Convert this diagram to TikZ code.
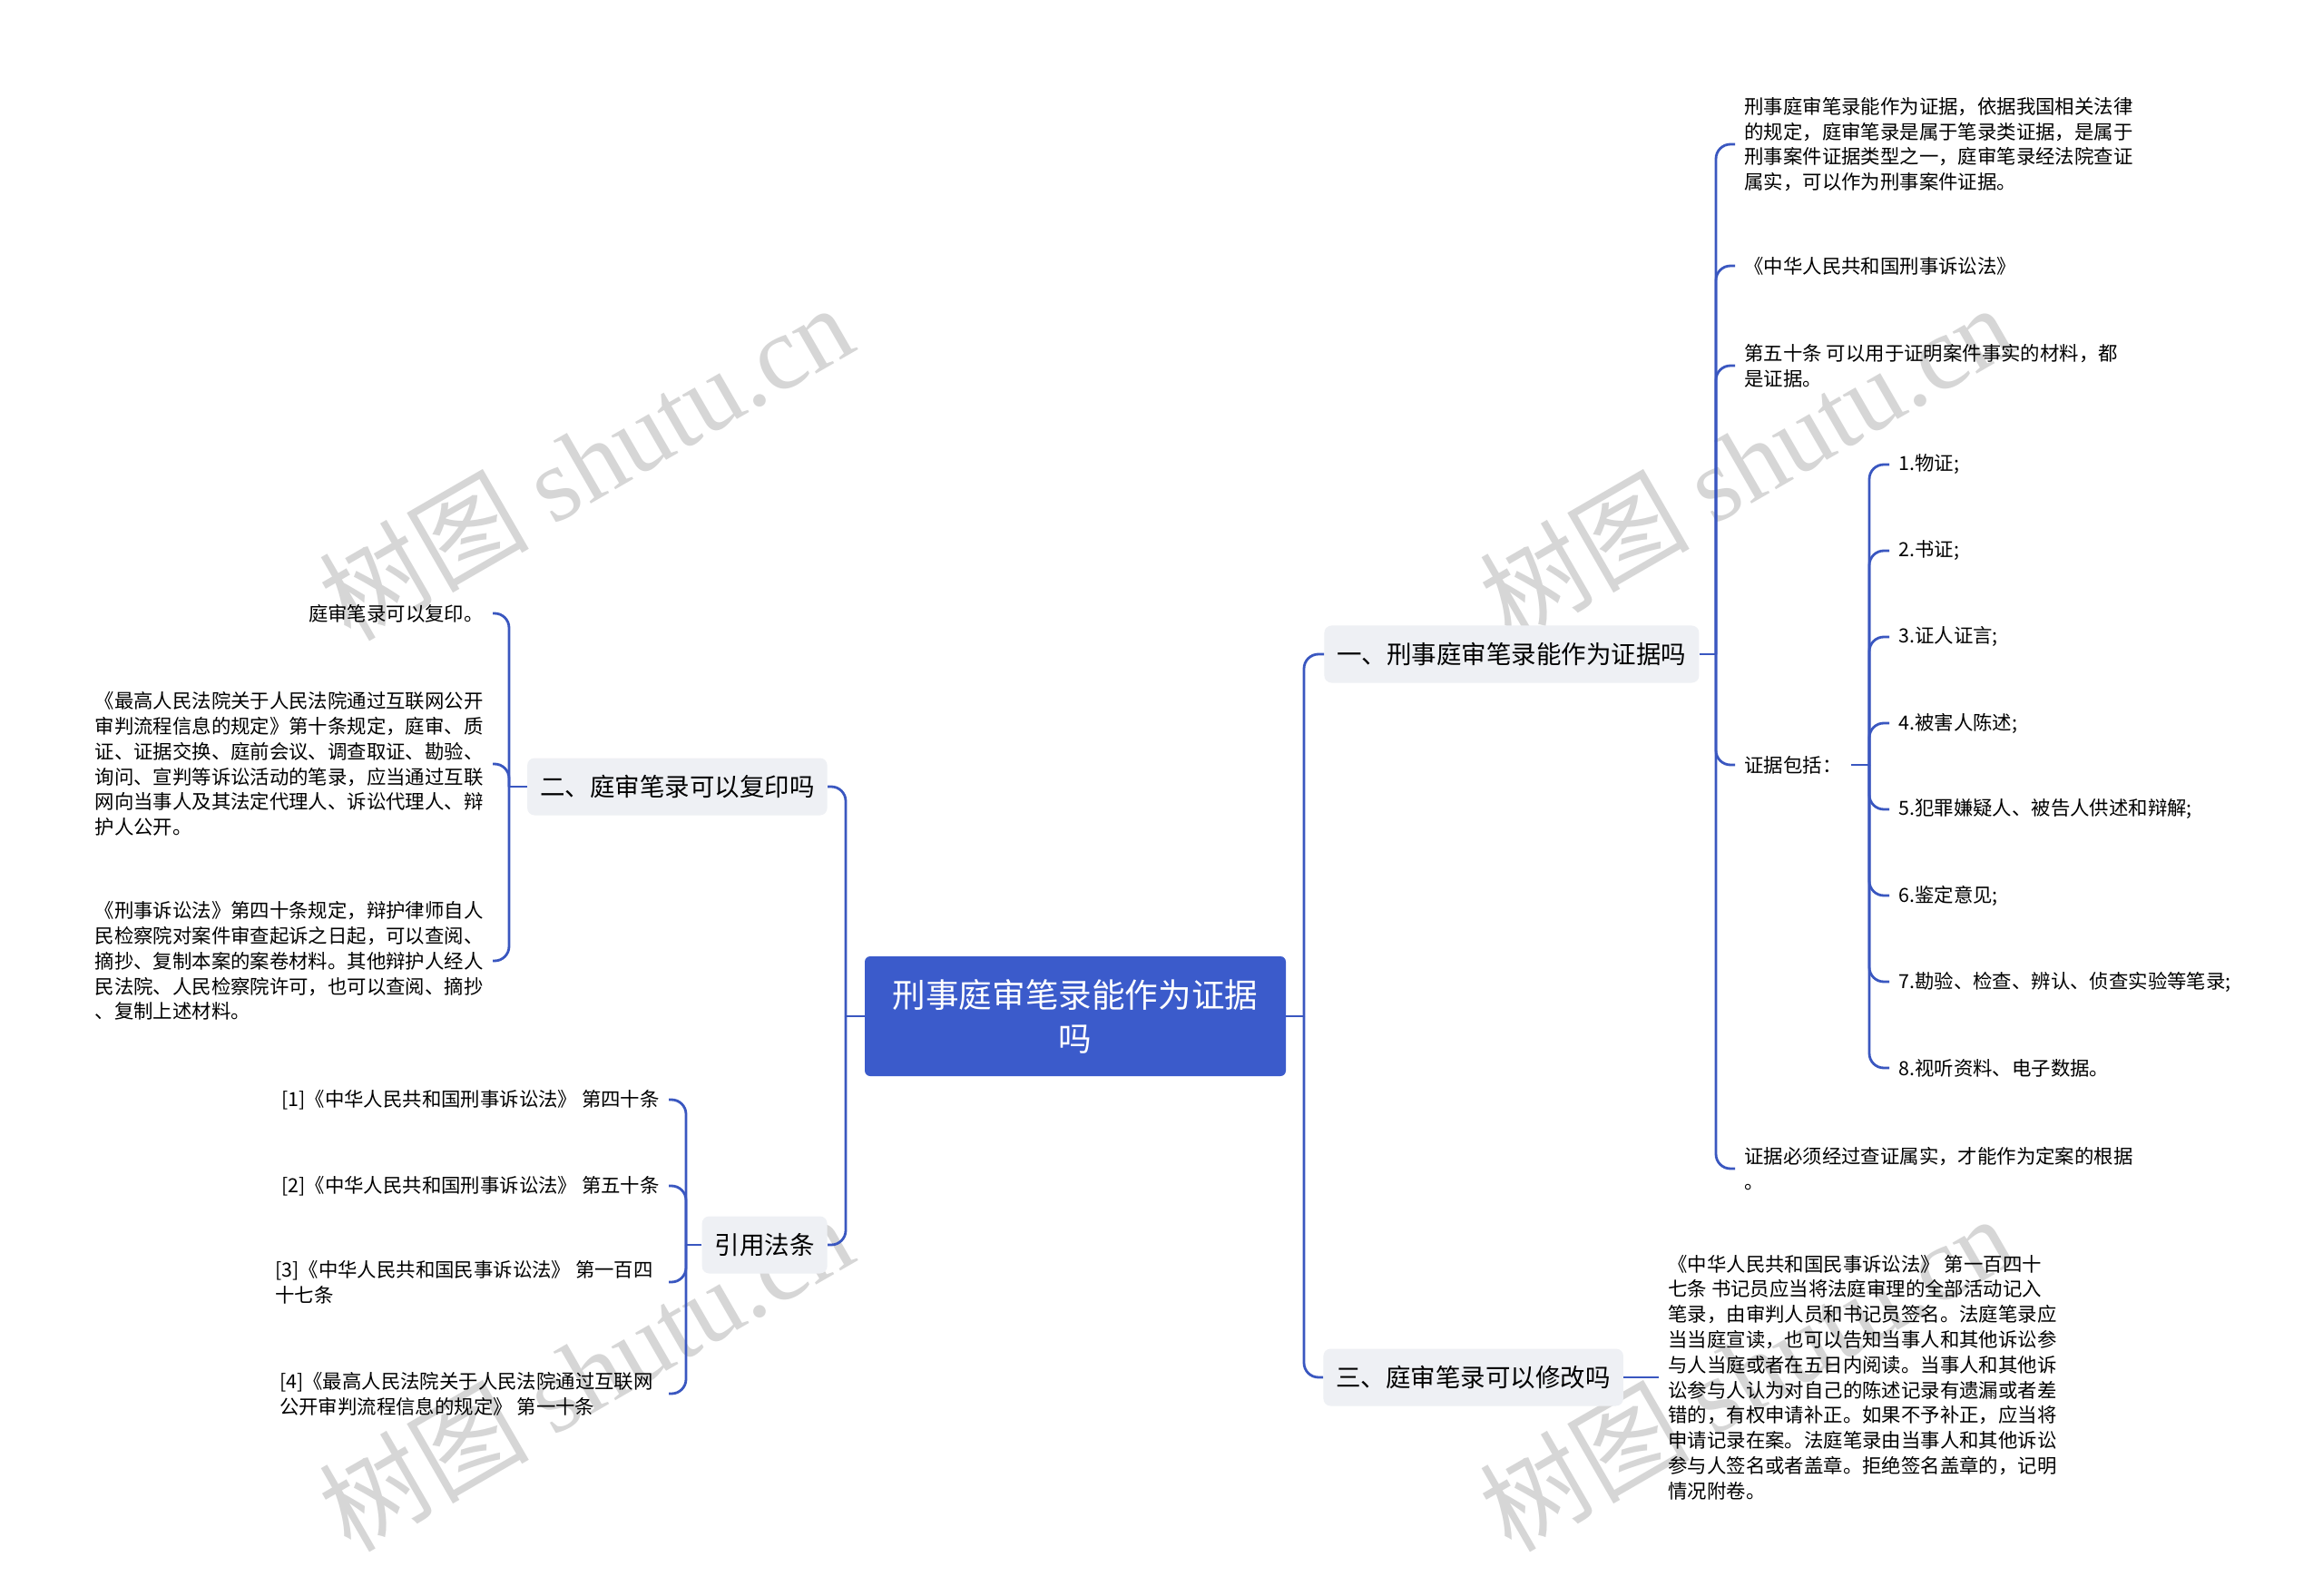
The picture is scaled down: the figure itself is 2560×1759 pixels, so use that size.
\documentclass[tikz,border=0pt]{standalone}
\usepackage{fontspec}
\setmainfont{Noto Sans CJK SC}
\newfontfamily\wmfont{Liberation Serif}
\usepackage{tikz}
\usetikzlibrary{positioning}
\definecolor{mapblue}{HTML}{3B5BCB}
\definecolor{lineblue}{HTML}{3A57C0}
\definecolor{topicgray}{HTML}{EEF0F4}
\definecolor{markgray}{HTML}{D6D6D6}

\begin{document}
\begin{tikzpicture}[x=0.5pt, y=-0.5pt,
    root/.style={fill=mapblue, text=white, rounded corners=3pt, align=center,
        minimum width=232pt, minimum height=66pt, inner sep=0pt,
        font=\fontsize{18.3}{24}\selectfont},
    topic/.style={fill=topicgray, rounded corners=4pt, inner xsep=7pt, inner ysep=0pt,
        minimum height=31.5pt, font=\fontsize{13.75}{16}\selectfont},
    leaf/.style={align=left, inner xsep=5pt, inner ysep=1pt,
        font=\fontsize{10.7}{13.9}\selectfont},
    wmark/.style={text=markgray, rotate=30, inner sep=0pt,
        font=\fontsize{58}{58}\selectfont},
    link/.style={draw=lineblue, line width=1.4pt},
    branch/.style={link, rounded corners=8pt}]
    \fill[white] (0,0) rectangle (2560,1759);
    \useasboundingbox (0,0) rectangle (2560,1759);

    % watermark
    \foreach \wx/\wy [count=\k] in {645/508, 1924/508, 645/1512, 1924/1512}
        \node[wmark] (wm\k) at (\wx,\wy) {树图 {\wmfont shutu.cn}};

    % centre and topics
    \node[root] (root) at (1185,1120) {刑事庭审笔录能作为证据\\吗};
    \node[topic, anchor=west] (q1) at (1459,721) {一、刑事庭审笔录能作为证据吗};
    \node[topic, anchor=east] (q2) at (912,867) {二、庭审笔录可以复印吗};
    \node[topic, anchor=west] (q3) at (1458,1518) {三、庭审笔录可以修改吗};
    \node[topic, anchor=east] (refs) at (912,1372) {引用法条};

    \coordinate (rbus) at (1437,1120);
    \coordinate (lbus) at (932,1120);
    \draw[link] (root.east) -- (rbus);
    \draw[branch] (rbus) |- (q1.west);
    \draw[branch] (rbus) |- (q3.west);
    \draw[link] (root.west) -- (lbus);
    \draw[branch] (lbus) |- (q2.east);
    \draw[branch] (lbus) |- (refs.east);

    % topic one
    \node[leaf, anchor=west] (a1) at (1912,159) {刑事庭审笔录能作为证据，依据我国相关法律\\的规定，庭审笔录是属于笔录类证据，是属于\\刑事案件证据类型之一，庭审笔录经法院查证\\属实，可以作为刑事案件证据。};
    \node[leaf, anchor=west] (a2) at (1912,293) {《中华人民共和国刑事诉讼法》};
    \node[leaf, anchor=west] (a3) at (1912,403) {第五十条 可以用于证明案件事实的材料，都\\是证据。};
    \node[leaf, anchor=west] (a4) at (1912,843) {证据包括：};
    \node[leaf, anchor=west] (a5) at (1912,1288) {证据必须经过查证属实，才能作为定案的根据\\。};
    \coordinate (q1bus) at (1891,721);
    \draw[link] (q1.east) -- (q1bus);
    \foreach \c in {a1,a2,a3,a4,a5}
        \draw[branch] (q1bus) |- (\c.west);

    \coordinate (a4bus) at (2060,843);
    \draw[link] (a4.east) -- (a4bus);
    \foreach \t [count=\i] in {1.物证;, 2.书证;, 3.证人证言;, 4.被害人陈述;,
        5.犯罪嫌疑人、被告人供述和辩解;, 6.鉴定意见;,
        7.勘验、检查、辨认、侦查实验等笔录;, 8.视听资料、电子数据。} {
        \node[leaf, anchor=west] (e\i) at (2082,{417+95*\i}) {\t};
        \draw[branch] (a4bus) |- (e\i.west);
    }

    % topic two
    \node[leaf, anchor=east] (b1) at (543,676) {庭审笔录可以复印。};
    \node[leaf, anchor=east] (b2) at (543,842) {《最高人民法院关于人民法院通过互联网公开\\审判流程信息的规定》第十条规定，庭审、质\\证、证据交换、庭前会议、调查取证、勘验、\\询问、宣判等诉讼活动的笔录，应当通过互联\\网向当事人及其法定代理人、诉讼代理人、辩\\护人公开。};
    \node[leaf, anchor=east] (b3) at (543,1059) {《刑事诉讼法》第四十条规定，辩护律师自人\\民检察院对案件审查起诉之日起，可以查阅、\\摘抄、复制本案的案卷材料。其他辩护人经人\\民法院、人民检察院许可，也可以查阅、摘抄\\、复制上述材料。};
    \coordinate (q2bus) at (561,867);
    \draw[link] (q2.west) -- (q2bus);
    \foreach \c in {b1,b2,b3}
        \draw[branch] (q2bus) |- (\c.east);

    % references
    \node[leaf, anchor=east] (r1) at (737,1212) {[1]《中华人民共和国刑事诉讼法》 第四十条};
    \node[leaf, anchor=east] (r2) at (737,1307) {[2]《中华人民共和国刑事诉讼法》 第五十条};
    \node[leaf, anchor=east] (r3) at (730,1413) {[3]《中华人民共和国民事诉讼法》 第一百四\\十七条};
    \node[leaf, anchor=east] (r4) at (730,1536) {[4]《最高人民法院关于人民法院通过互联网\\公开审判流程信息的规定》 第一十条};
    \coordinate (refbus) at (756,1372);
    \draw[link] (refs.west) -- (refbus);
    \draw[branch] (refbus) |- (r1.east);
    \draw[branch] (refbus) |- (r2.east);
    \draw[branch] (refbus) |- ([xshift=3.5pt]r3.east);
    \draw[branch] (refbus) |- ([xshift=3.5pt]r4.east);

    % topic three
    \node[leaf, anchor=west] (c1) at (1828,1518) {《中华人民共和国民事诉讼法》 第一百四十\\七条 书记员应当将法庭审理的全部活动记入\\笔录，由审判人员和书记员签名。法庭笔录应\\当当庭宣读，也可以告知当事人和其他诉讼参\\与人当庭或者在五日内阅读。当事人和其他诉\\讼参与人认为对自己的陈述记录有遗漏或者差\\错的，有权申请补正。如果不予补正，应当将\\申请记录在案。法庭笔录由当事人和其他诉讼\\参与人签名或者盖章。拒绝签名盖章的，记明\\情况附卷。};
    \draw[link] (q3.east) -- (c1.west);
\end{tikzpicture}
\end{document}
